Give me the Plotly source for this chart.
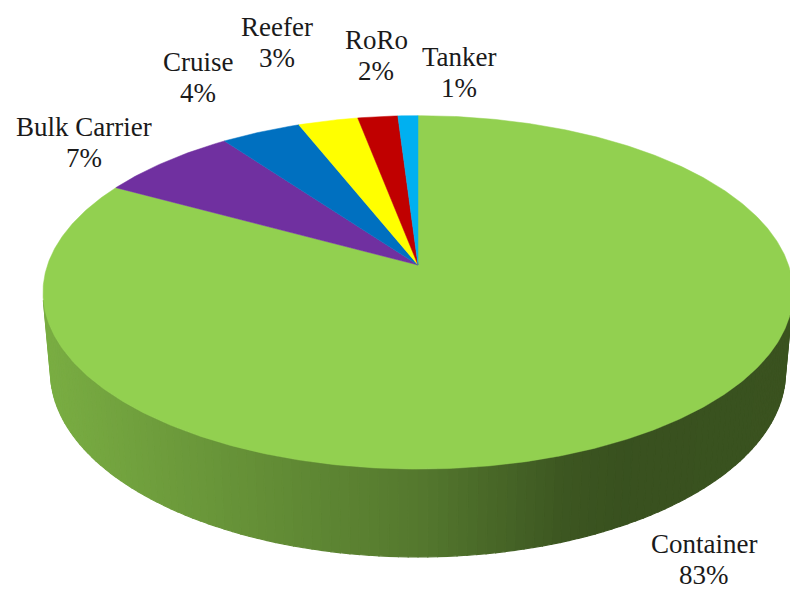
import numpy as np
import plotly.graph_objects as go

# Fleet composition shares (%)
categories = ["Container", "Bulk Carrier", "Cruise", "Reefer", "RoRo", "Tanker"]
shares = [83, 7, 4, 3, 2, 1]
colors = ["#92D050", "#7030A0", "#0070C0", "#FFFF00", "#C00000", "#00B0F0"]

W, H = 790, 590

# Perspective view of a disc (radius 1) with some thickness
CX, CY = 418.0, 265.0        # projected centre of the top face
DIST = 5.714                 # camera distance (in disc radii)
FOCAL = 2117.0
PHI = np.arcsin(0.4656)      # camera elevation
THICK = 0.244                # disc thickness (in disc radii)


def project(theta_deg, z):
    t = np.radians(theta_deg)
    X, Y = np.sin(t), np.cos(t)
    depth = DIST + Y * np.cos(PHI) - z * np.sin(PHI)
    yc = Y * np.sin(PHI) + z * np.cos(PHI)
    return CX + FOCAL * X / depth, CY - FOCAL * yc / depth


def shade(hex_color, f):
    h = hex_color.lstrip("#")
    r, g, b = (int(h[i:i + 2], 16) for i in (0, 2, 4))
    return "rgb({},{},{})".format(int(r * f), int(g * f), int(b * f))


total = float(sum(shares))
bounds = np.concatenate([[0.0], np.cumsum(shares) / total * 360.0])

fig = go.Figure()

# Side wall: only the part facing the camera is drawn, as thin shaded strips
cos_limit = -1.0 / (DIST * np.cos(PHI))
lo = np.degrees(np.arccos(cos_limit))
hi = 360.0 - lo
edges = np.linspace(lo, hi, 121)
for a0, a1 in zip(edges[:-1], edges[1:]):
    mid = 0.5 * (a0 + a1)
    k = int(np.searchsorted(bounds, mid, side="right") - 1)
    k = min(max(k, 0), len(shares) - 1)
    arc = np.linspace(a0, a1, 4)
    xt, yt = project(arc, 0.0)
    xb, yb = project(arc[::-1], -THICK)
    xs = np.concatenate([xt, xb, xt[:1]])
    ys = np.concatenate([yt, yb, yt[:1]])
    xm, _ = project(mid, -THICK / 2)
    f = float(np.interp(xm, [40, 300, 420, 560, 620, 800],
                        [0.84, 0.66, 0.58, 0.42, 0.39, 0.40]))
    c = shade(colors[k], f)
    fig.add_trace(go.Scatter(x=xs, y=ys, mode="lines", fill="toself",
                             fillcolor=c, line=dict(color=c, width=1.2),
                             hoverinfo="skip", showlegend=False))

# Top face slices
for name, a0, a1, col in zip(categories, bounds[:-1], bounds[1:], colors):
    arc = np.linspace(a0, a1, max(int((a1 - a0) * 2), 8))
    xa, ya = project(arc, 0.0)
    xs = np.concatenate([[CX], xa, [CX]])
    ys = np.concatenate([[CY], ya, [CY]])
    fig.add_trace(go.Scatter(x=xs, y=ys, mode="lines", fill="toself",
                             fillcolor=col, line=dict(color=col, width=0.5),
                             name=name, hoverinfo="name", showlegend=False))

# Data labels (name and percentage on two lines)
label_pos = {
    "Container": (704, 559),
    "Bulk Carrier": (84, 142),
    "Cruise": (198, 77),
    "Reefer": (277, 42),
    "RoRo": (376, 55),
    "Tanker": (459, 72),
}
font = dict(family="Liberation Serif, Times New Roman, DejaVu Serif, serif",
            size=27, color="#1a1a1a")
for name, val in zip(categories, shares):
    lx, ly = label_pos[name]
    pct = "{:.0f}%".format(val / total * 100)
    fig.add_annotation(x=lx, y=ly - 15.5, text=name, showarrow=False,
                       font=font, xanchor="center", yanchor="middle")
    fig.add_annotation(x=lx, y=ly + 15.5, text=pct, showarrow=False,
                       font=font, xanchor="center", yanchor="middle")

fig.update_layout(
    width=W, height=H, autosize=False,
    margin=dict(l=0, r=0, t=0, b=0),
    paper_bgcolor="white", plot_bgcolor="white",
    xaxis=dict(range=[0, W], visible=False, fixedrange=True),
    yaxis=dict(range=[H, 0], visible=False, fixedrange=True),
)

fig.write_html("out.html")
